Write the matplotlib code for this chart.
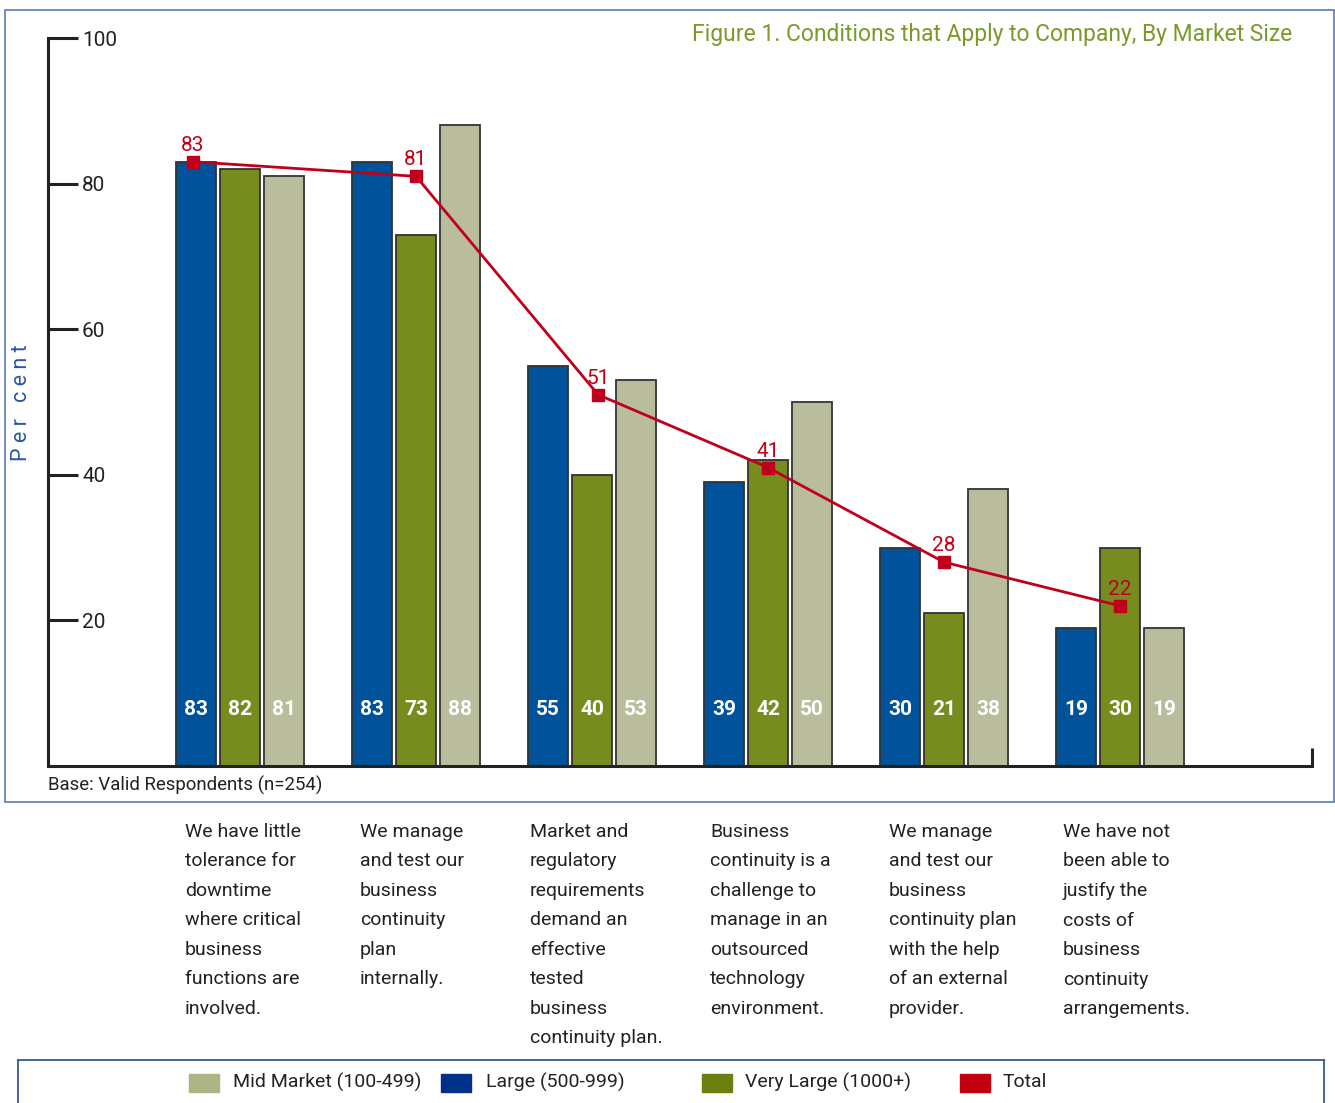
import matplotlib.pyplot as plt
import matplotlib.patches as mpatches
from matplotlib.lines import Line2D
import numpy as np

plt.rcParams['font.family'] = ['Roboto', 'DejaVu Sans']

categories = [
    "We have little\ntolerance for\ndowntime\nwhere critical\nbusiness\nfunctions are\ninvolved.",
    "We manage\nand test our\nbusiness\ncontinuity\nplan\ninternally.",
    "Market and\nregulatory\nrequirements\ndemand an\neffective\ntested\nbusiness\ncontinuity plan.",
    "Business\ncontinuity is a\nchallenge to\nmanage in an\noutsourced\ntechnology\nenvironment.",
    "We manage\nand test our\nbusiness\ncontinuity plan\nwith the help\nof an external\nprovider.",
    "We have not\nbeen able to\njustify the\ncosts of\nbusiness\ncontinuity\narrangements.",
]
large = [83, 83, 55, 39, 30, 19]
very_large = [82, 73, 40, 42, 21, 30]
mid_market = [81, 88, 53, 50, 38, 19]
total = [83, 81, 51, 41, 28, 22]

W, H = 1335, 1103
fig = plt.figure(figsize=(W / 100, H / 100), dpi=100)


def fx(px):
    return px / W


def fy(py):
    return 1 - py / H


blue = '#00529b'
green = '#768c1e'
tan = '#b9bd9c'
red = '#c0001a'
edge = '#333333'

# main axes: x from 48px to 1312px, y 0 at 766px, 100 at 38px
ax = fig.add_axes([fx(48), fy(766), fx(1312) - fx(48), (766 - 38) / H])
x = np.arange(len(categories))
slot = 44 / 176
width = 40 / 176
ax.bar(x - slot, large, width, color=blue, edgecolor=edge, linewidth=1.3, zorder=2)
ax.bar(x, very_large, width, color=green, edgecolor=edge, linewidth=1.3, zorder=2)
ax.bar(x + slot, mid_market, width, color=tan, edgecolor=edge, linewidth=1.3, zorder=2)

for i in range(len(x)):
    for off, v in zip([-slot, 0, slot], [large[i], very_large[i], mid_market[i]]):
        ax.text(x[i] + off, 7.7, str(v), color='white', fontsize=15, fontweight='bold',
                ha='center', va='center', zorder=3)

# total line (points sit mostly over the green bar)
line_off = np.array([-1.07, 0, 0.14, 0, 0, 0]) * slot
tx = x + line_off
ax.plot(tx, total, color=red, lw=2, marker='s', markersize=8, zorder=4)
for xi, v in zip(tx, total):
    ax.annotate(str(v), (xi, v), xytext=(0, 5), textcoords='offset points',
                ha='center', va='bottom', color=red, fontsize=15, zorder=5)

ax.set_xlim((48 - 240) / 176, (1312 - 240) / 176)
ax.set_ylim(0, 100)
ax.set_xticks([])
ax.set_yticks([20, 40, 60, 80, 100])
ax.tick_params(axis='y', direction='in', length=21.6, width=2.2, color='#222222',
               pad=-24.5, labelsize=15, labelcolor='#222222')
for lab in ax.get_yticklabels():
    lab.set_horizontalalignment('left')
for s in ['top', 'right']:
    ax.spines[s].set_visible(False)
for s in ['left', 'bottom']:
    ax.spines[s].set_linewidth(2.2)
    ax.spines[s].set_color('#222222')
ax.plot([1, 1], [0, 18 / 728], transform=ax.transAxes, color='#222222', lw=2.2,
        clip_on=False, solid_capstyle='butt')

# frame around the chart
fig.patches.append(mpatches.Rectangle((fx(5), fy(802)), fx(1334) - fx(5), (802 - 10) / H,
                                      transform=fig.transFigure, fill=False,
                                      edgecolor='#5a78b8', lw=1.2))

fig.text(fx(1292), fy(35), "Figure 1. Conditions that Apply to Company, By Market Size",
         color='#7a9a2a', fontsize=16.5, ha='right', va='center')
fig.text(fx(22), fy(403), "P e r   c e n t", color='#2a56a8', fontsize=15.5,
         rotation=90, ha='center', va='center')
fig.text(fx(48), fy(785), "Base: Valid Respondents (n=254)", color='#222222',
         fontsize=13.4, ha='left', va='center')

label_x = [185, 360, 530, 710, 889, 1063]
for lx, c in zip(label_x, categories):
    fig.text(fx(lx), fy(823), c, fontsize=14, color='#222222', ha='left', va='top',
             linespacing=1.82)

# legend box
fig.add_artist(Line2D([fx(18), fx(1324)], [fy(1060), fy(1060)], transform=fig.transFigure,
                      color='#2a4a90', lw=1.2))
fig.add_artist(Line2D([fx(18), fx(18)], [fy(1060), 0], transform=fig.transFigure,
                      color='#2a4a90', lw=1.2))
fig.add_artist(Line2D([fx(1324), fx(1324)], [fy(1060), 0], transform=fig.transFigure,
                      color='#2a4a90', lw=1.2))

legend_items = [("Mid Market (100-499)", '#adb585', 189, 233),
                ("Large (500-999)", '#003087', 441, 486),
                ("Very Large (1000+)", '#6a8010', 702, 745),
                ("Total", '#c0000f', 960, 1003)]
for name, col, px, tx_ in legend_items:
    fig.patches.append(mpatches.Rectangle((fx(px), fy(1092)), 30 / W, 18 / H,
                                          transform=fig.transFigure, color=col))
    fig.text(fx(tx_), fy(1082), name, fontsize=14, color='#222222', ha='left', va='center')

fig.savefig('out.png', dpi=100)
